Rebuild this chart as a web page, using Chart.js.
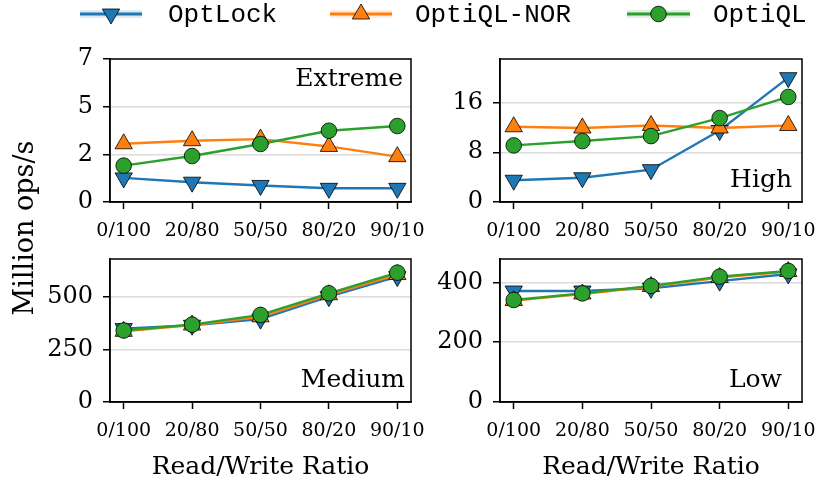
<!DOCTYPE html>
<html>
<head>
<meta charset="utf-8">
<script src="https://cdn.jsdelivr.net/npm/chart.js@4.4.0/dist/chart.umd.min.js"></script>
<style>
  body { margin: 0; background: #fff; width: 817px; height: 482px; position: relative; overflow: hidden; }
  canvas { position: absolute; }
  #ylab { position: absolute; left: 23px; top: 228px; transform: translate(-50%, -50%) rotate(-90deg);
          font: 27px 'DejaVu Serif'; white-space: nowrap; color: #000; }
</style>
</head>
<body>
<canvas id="legend" width="817" height="40" style="left:0;top:0"></canvas>
<canvas id="high" width="397" height="200" style="left:420px;top:40px"></canvas>
<canvas id="low" width="397" height="242" style="left:420px;top:240px"></canvas>
<canvas id="extreme" width="400" height="200" style="left:40px;top:40px"></canvas>
<canvas id="medium" width="400" height="242" style="left:40px;top:240px"></canvas>
<div id="ylab">Million ops/s</div>
<script>
// read/write ratios on the x axis
const ratios = ['0/100', '20/80', '50/50', '80/20', '90/10'];
const seriesNames = ['OptLock', 'OptiQL-NOR', 'OptiQL'];

// Extreme contention
const extremeOptLock = [1.18, 0.97, 0.81, 0.67, 0.67];
const extremeNOR = [2.85, 3.0, 3.08, 2.72, 2.22];
const extremeOptiQL = [1.78, 2.25, 2.84, 3.49, 3.72];
const extremeTicks = [0, 2.33, 4.67, 7];
const extremeTickLabels = ['0', '2', '5', '7'];

// High contention
const highOptLock = [3.5, 3.9, 5.2, 11.5, 20.0];
const highNOR = [12.1, 11.9, 12.3, 11.9, 12.3];
const highOptiQL = [9.1, 9.8, 10.6, 13.5, 16.9];
const highTicks = [0, 8, 16];

// Medium contention
const mediumOptLock = [349, 365, 394, 501, 596];
const mediumNOR = [336, 366, 405, 510, 606];
const mediumOptiQL = [340, 368, 414, 517, 615];
const mediumTicks = [0, 250, 500];

// Low contention
const lowOptLock = [371, 371, 380, 404, 428];
const lowNOR = [339, 361, 386, 416, 436];
const lowOptiQL = [341, 363, 388, 419, 438];
const lowTicks = [0, 200, 400];

const colors = ['#1f77b4', '#ff7f0e', '#2ca02c'];
const serif = "'DejaVu Serif'";

// black box round the plot area plus the panel name
const framePlugin = {
  id: 'frame',
  afterDraw(chart, args, opts) {
    const a = chart.chartArea, ctx = chart.ctx;
    ctx.save();
    ctx.strokeStyle = '#000';
    ctx.lineWidth = 1.5;
    ctx.strokeRect(a.left, a.top, a.right - a.left, a.bottom - a.top);
    ctx.fillStyle = '#000';
    ctx.font = '25px ' + serif;
    ctx.textAlign = 'right';
    ctx.textBaseline = 'middle';
    const y = opts.pos === 'top' ? a.top + 20 : a.bottom - 22;
    ctx.fillText(opts.name, a.right - opts.dx, y);
    ctx.restore();
  }
};

function makePanel(id, name, pos, dx, data, yMax, yTicks, yLabels, cfg) {
  const pts = arr => arr.map((v, i) => ({ x: i, y: v }));
  const styles = [
    { pointStyle: 'triangle', rotation: 180, radius: 10 },
    { pointStyle: 'triangle', rotation: 0, radius: 10 },
    { pointStyle: 'circle', rotation: 0, radius: 7.8 }
  ];
  return new Chart(document.getElementById(id), {
    type: 'line',
    data: {
      datasets: data.map((d, k) => ({
        label: seriesNames[k],
        data: pts(d),
        borderColor: colors[k],
        backgroundColor: colors[k],
        borderWidth: 2.4,
        pointStyle: styles[k].pointStyle,
        rotation: styles[k].rotation,
        pointRadius: styles[k].radius,
        pointBorderColor: '#000',
        pointBorderWidth: 0.8,
        order: 3 - k
      }))
    },
    options: {
      responsive: false,
      animation: false,
      devicePixelRatio: 1,
      layout: { padding: { top: 19, right: cfg.right, left: 0, bottom: 0 } },
      plugins: { legend: { display: false }, tooltip: { enabled: false }, frame: { name: name, pos: pos, dx: dx } },
      scales: {
        x: {
          type: 'linear', min: -0.2, max: 4.2,
          afterBuildTicks: s => { s.ticks = ratios.map((r, i) => ({ value: i })); },
          afterFit: s => { s.height = cfg.xh; s.paddingLeft = 0; s.paddingRight = 0; },
          ticks: { callback: v => ratios[v], font: { family: serif, size: 19 }, color: '#000', padding: 11, maxRotation: 0, autoSkip: false },
          grid: { drawOnChartArea: false, tickLength: 7, tickColor: '#000', tickWidth: 1.5 },
          border: { color: '#000', width: 1.5 },
          title: { display: cfg.title, text: 'Read/Write Ratio', font: { family: serif, size: 25 }, color: '#000', padding: { top: 2, bottom: 0 } }
        },
        y: {
          min: 0, max: yMax,
          afterBuildTicks: s => { s.ticks = yTicks.map(v => ({ value: v })); },
          afterFit: s => { s.width = cfg.yw; s.paddingTop = 0; s.paddingBottom = 0; },
          ticks: {
            callback: (v, i) => yLabels ? yLabels[i] : v,
            font: { family: serif, size: 24 }, color: '#000', padding: 10
          },
          grid: { color: '#dcdcdc', lineWidth: 1.5, tickLength: 7, tickColor: '#000', tickWidth: 1.5 },
          border: { color: '#000', width: 1.5 }
        }
      }
    },
    plugins: [framePlugin]
  });
}

makePanel('extreme', 'Extreme', 'top', 8, [extremeOptLock, extremeNOR, extremeOptiQL], 7, extremeTicks, extremeTickLabels,
  { right: 29, xh: 38, yw: 70, title: false });
makePanel('high', 'High', 'bottom', 10, [highOptLock, highNOR, highOptiQL], 23, highTicks, null,
  { right: 15, xh: 38, yw: 80, title: false });
makePanel('medium', 'Medium', 'bottom', 6, [mediumOptLock, mediumNOR, mediumOptiQL], 680, mediumTicks, null,
  { right: 29, xh: 80, yw: 70, title: true });
makePanel('low', 'Low', 'bottom', 20, [lowOptLock, lowNOR, lowOptiQL], 478, lowTicks, null,
  { right: 15, xh: 80, yw: 80, title: true });

// legend across the top
const lg = document.getElementById('legend').getContext('2d');
const legendItems = [
  { x0: 80, x1: 142, tx: 168, style: 'triangle', rot: 180, r: 10 },
  { x0: 330, x1: 392, tx: 415, style: 'triangle', rot: 0, r: 10 },
  { x0: 627, x1: 690, tx: 713, style: 'circle', rot: 0, r: 7.8 }
];
legendItems.forEach((it, k) => {
  const y = 14;
  lg.globalAlpha = 0.15;
  lg.fillStyle = colors[k];
  lg.fillRect(it.x0, y - 4, it.x1 - it.x0, 8);
  lg.globalAlpha = 1;
  lg.strokeStyle = colors[k];
  lg.lineWidth = 3;
  lg.beginPath(); lg.moveTo(it.x0, y); lg.lineTo(it.x1, y); lg.stroke();
  lg.fillStyle = colors[k];
  lg.strokeStyle = '#000';
  lg.lineWidth = 0.8;
  Chart.helpers.drawPoint(lg, { pointStyle: it.style, radius: it.r, rotation: it.rot, borderWidth: 0.8 }, (it.x0 + it.x1) / 2, y);
  lg.fillStyle = '#000';
  lg.font = "26px 'Liberation Mono'";
  lg.textBaseline = 'middle';
  lg.fillText(seriesNames[k], it.tx, y + 1);
});
</script>
</body>
</html>
